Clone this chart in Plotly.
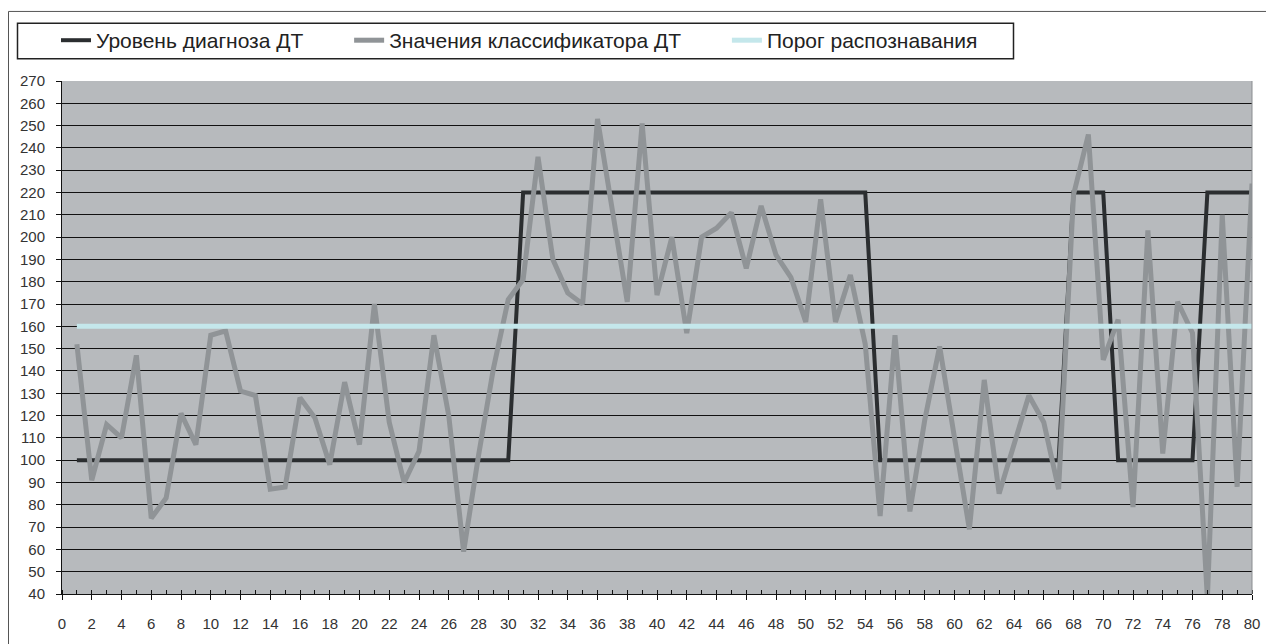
import plotly.graph_objects as go

# ---- data ----
x_vals = list(range(1, 81))
diag_level = [100] * 30 + [220] * 24 + [100] * 13 + [220] * 3 + [100] * 6 + [220] * 4
classifier = [152, 91, 116, 110, 147, 74, 83, 121, 107, 156,
              158, 131, 129, 87, 88, 128, 119, 98, 135, 107,
              170, 117, 90, 104, 156, 120, 59, 102, 141, 172,
              181, 236, 190, 175, 170, 253, 212, 171, 251, 174,
              200, 157, 200, 204, 211, 186, 214, 192, 182, 162,
              217, 162, 183, 152, 75, 156, 77, 118, 151, 110,
              69, 136, 85, 107, 129, 117, 87, 219, 246, 145,
              163, 79, 203, 103, 171, 157, 38, 210, 88, 224]
threshold = [160] * 80
series_names = ["Уровень диагноза ДТ", "Значения классификатора ДТ", "Порог распознавания"]

# page is rendered with an 8px body margin -> work in page pixels and shift
OFF = 8
W, H = 1274 - OFF, 644 - OFF
L, R, T, B = 62 - OFF, 1252 - OFF, 81 - OFF, 601 - OFF


def px(xp):  # page x pixel -> paper
    return (xp - OFF - L) / (R - L)


def py(yp):  # page y pixel -> paper
    return (B - (yp - OFF)) / (B - T)


pad = "\u00a0" * 7

fig = go.Figure()
fig.add_trace(go.Scatter(x=x_vals, y=diag_level, mode="lines", name=series_names[0] + pad,
                         line=dict(color="#2b2e30", width=4)))
fig.add_trace(go.Scatter(x=x_vals, y=classifier, mode="lines", name=series_names[1] + pad,
                         line=dict(color="#909497", width=5)))
fig.add_trace(go.Scatter(x=x_vals, y=threshold, mode="lines", name=series_names[2],
                         line=dict(color="#c4e7eb", width=5)))

font_family = "Liberation Sans, Arial, sans-serif"

fig.update_layout(
    width=W, height=H,
    margin=dict(l=L, r=W - R, t=T, b=H - B),
    paper_bgcolor="white",
    plot_bgcolor="#b7babd",
    font=dict(family=font_family, size=15, color="#333333"),
    showlegend=True,
    legend=dict(orientation="h", x=px(56), y=py(40), xanchor="left", yanchor="middle",
                bgcolor="rgba(0,0,0,0)", borderwidth=0,
                font=dict(family=font_family, size=21, color="#222222"),
                traceorder="normal"),
    xaxis=dict(range=[0, 80], tickmode="linear", tick0=0, dtick=2,
               showgrid=False, zeroline=False,
               showline=True, linecolor="#111111", linewidth=1,
               ticks="outside", ticklen=5, tickcolor="#111111",
               minor=dict(dtick=1, ticks="inside", ticklen=4, tickcolor="#111111", showgrid=False),
               tickfont=dict(size=15, color="#333333"), ticklabelstandoff=11),
    yaxis=dict(range=[40, 270], tickmode="linear", tick0=40, dtick=10,
               showgrid=True, gridcolor="#111111", gridwidth=1,
               zeroline=False, showline=True, linecolor="#111111", linewidth=1,
               ticks="outside", ticklen=5, tickcolor="#111111",
               tickfont=dict(size=15, color="#333333"), ticklabelstandoff=8),
    shapes=[
        # outer chart frame
        dict(type="rect", xref="paper", yref="paper",
             x0=px(8.5), x1=px(1300), y0=py(700), y1=py(10.5),
             line=dict(color="#555555", width=1), fillcolor="rgba(0,0,0,0)", layer="below"),
        # legend frame
        dict(type="rect", xref="paper", yref="paper",
             x0=px(17.5), x1=px(1013.5), y0=py(58.5), y1=py(22.5),
             line=dict(color="#222222", width=1.5), fillcolor="white", layer="below"),
        # plot right border
        dict(type="line", xref="paper", yref="paper", x0=1, x1=1, y0=0, y1=1,
             line=dict(color="#8a8d90", width=1)),
    ],
)

fig.write_html("out.html")
